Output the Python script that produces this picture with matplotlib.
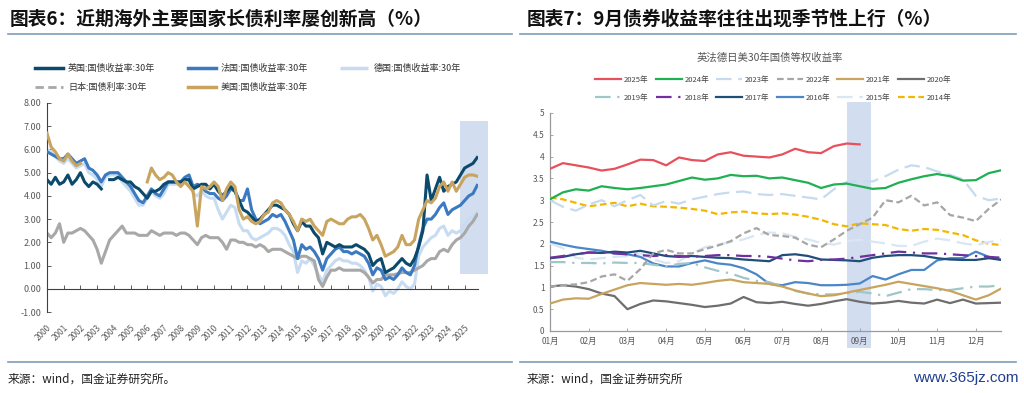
import numpy as np
import matplotlib
matplotlib.use("Agg")
import matplotlib.pyplot as plt
from matplotlib.lines import Line2D
from matplotlib.patches import Rectangle
import matplotlib.transforms as mtransforms

plt.rcParams['font.family'] = ['Noto Sans CJK SC', 'DejaVu Sans']
nan = np.nan

# ---------------- left chart: 30y yields, quarterly readings 2000Q1..2025Q4
t_left = 2000 + np.arange(104) * 0.25
year_ticks = list(range(2000, 2026))

uk = [4.7, 4.5, 4.8, 4.5,  4.6, 4.9, 4.5, 4.7,  5.0, 4.6, 4.4, 4.6,  4.5, 4.3, nan, 4.7,
      4.7, 4.8, 4.7, 4.6,  4.6, 4.4, 4.3, 4.1,  3.9, 4.2, 4.2, 4.3,  4.5, 4.6, 4.6, 4.6,
      4.6, 4.7, 4.7, 4.3,  4.4, 4.5, 4.5, 4.3,  4.5, 4.2, 4.0, 4.2,  4.4, 4.2, 3.8, 3.4,
      3.3, 3.1, 2.9, 3.0,  3.2, 3.4, 3.6, 3.6,  3.5, 3.4, 3.2, 2.8,  2.5, 2.9, 2.7, 2.7,
      2.4, 2.2, 1.5, 2.0,  1.9, 1.8, 1.9, 1.8,  1.8, 1.8, 1.9, 1.8,  1.7, 1.5, 1.0, 1.2,
      1.3, 0.7, 0.8, 0.9,  1.1, 1.3, 1.1, 1.0,  1.3, 1.8, 2.5, 4.9,  3.8, 4.3, 4.8, 4.2,
      4.4, 4.5, 4.6, 4.9,  5.2, 5.3, 5.4, 5.65]
france = [5.9, 5.8, 5.7, 5.6,  5.6, 5.8, 5.6, 5.4,  5.5, 5.6, 5.2, 5.1,  4.9, 4.6, 4.9, 5.0,
          5.0, 5.0, 4.8, 4.6,  4.4, 4.1, 3.8, 3.7,  4.0, 4.3, 4.1, 4.0,  4.3, 4.6, 4.6, 4.6,
          4.6, 4.8, 4.9, 4.4,  4.5, 4.4, 4.2, 4.1,  4.1, 3.9, 3.8, 4.0,  4.3, 4.2, 3.8, 3.8,
          4.3, 3.4, 3.0, 2.8,  2.9, 3.0, 3.2, 3.1,  3.2, 2.9, 2.5, 2.1,  1.3, 1.9, 1.7, 1.8,
          1.6, 1.3, 0.8, 1.3,  1.5, 1.7, 1.8, 1.6,  1.6, 1.5, 1.6, 1.5,  1.4, 1.1, 0.6, 0.9,
          0.8, 0.4, 0.5, 0.4,  0.6, 0.9, 0.7, 0.6,  1.0, 1.9, 2.6, 3.0,  3.0, 3.2, 3.5, 3.7,
          3.2, 3.4, 3.5, 3.6,  3.8, 4.0, 4.1, 4.45]
germany = [6.0, 5.9, 5.7, 5.5,  5.4, 5.6, 5.4, 5.2,  5.3, 5.4, 5.0, 4.9,  4.7, 4.4, 4.8, 4.9,
           4.9, 4.9, 4.6, 4.4,  4.2, 3.9, 3.6, 3.6,  3.9, 4.2, 4.0, 3.9,  4.1, 4.5, 4.5, 4.5,
           4.5, 4.7, 4.6, 4.1,  4.0, 4.2, 4.0, 3.9,  3.9, 3.4, 3.0, 3.3,  3.6, 3.5, 2.8, 2.5,
           2.5, 2.2, 2.1, 2.2,  2.3, 2.4, 2.6, 2.6,  2.5, 2.3, 1.9, 1.6,  0.7, 1.2, 1.1, 1.3,
           1.0, 0.6, 0.3, 0.8,  1.0, 1.2, 1.3, 1.2,  1.2, 1.1, 1.1, 1.0,  0.8, 0.5, -0.1, 0.2,
           0.1, -0.3, -0.1, -0.2,  0.0, 0.3, 0.1, 0.0,  0.2, 1.4, 1.8, 2.0,  2.2, 2.3, 2.6, 2.7,
           2.3, 2.5, 2.4, 2.5,  2.8, 3.0, 3.1, 3.3]
japan = [2.4, 2.2, 2.4, 2.8,  2.0, 2.4, 2.4, 2.5,  2.6, 2.5, 2.3, 2.1,  1.7, 1.1, 1.6, 2.1,
         2.3, 2.5, 2.7, 2.4,  2.4, 2.4, 2.3, 2.3,  2.3, 2.5, 2.4, 2.3,  2.4, 2.4, 2.4, 2.3,
         2.4, 2.4, 2.3, 2.1,  1.9, 2.2, 2.3, 2.2,  2.2, 2.2, 2.0, 1.7,  2.1, 2.1, 2.0, 2.0,
         1.9, 1.9, 1.8, 1.9,  1.8, 1.6, 1.7, 1.7,  1.7, 1.6, 1.5, 1.4,  1.3, 1.4, 1.4, 1.3,
         1.2, 0.4, 0.1, 0.5,  0.8, 0.8, 0.9, 0.8,  0.8, 0.8, 0.8, 0.8,  0.7, 0.5, 0.25, 0.4,
         0.4, 0.6, 0.6, 0.6,  0.65, 0.7, 0.7, 0.7,  0.8, 0.9, 1.0, 1.2,  1.3, 1.3, 1.6, 1.7,
         1.6, 1.9, 2.1, 2.2,  2.4, 2.7, 2.9, 3.2]
usa = [6.7, 6.1, 5.9, 5.6,  5.5, 5.8, 5.5, 5.3,  5.4, nan, nan, nan,  nan, nan, nan, nan,
       nan, nan, nan, nan,  nan, nan, nan, nan,  4.6, 5.2, 4.9, 4.7,  4.8, 5.0, 4.9, 4.6,
       4.4, 4.6, 4.4, 4.2,  2.7, 4.4, 4.3, 4.4,  4.6, 4.4, 3.8, 4.3,  4.6, 4.4, 3.4, 3.0,
       3.1, 2.9, 2.8, 2.9,  3.2, 3.3, 3.7, 3.8,  3.7, 3.4, 3.2, 2.9,  2.5, 3.0, 2.9, 3.0,
       2.7, 2.5, 2.3, 2.9,  3.0, 2.9, 2.8, 2.8,  3.0, 3.1, 3.1, 3.2,  3.0, 2.6, 2.1, 2.3,
       1.9, 1.4, 1.5, 1.6,  1.8, 2.3, 1.9, 1.9,  2.1, 3.0, 3.4, 3.8,  3.7, 3.9, 4.4, 4.6,
       4.2, 4.6, 4.2, 4.5,  4.8, 4.9, 4.9, 4.85]

# ---------------- right chart: equal-weight 30y yield, readings every third of a month
m_right = np.arange(36) / 3.0
month_labels = ['%02d月' % m for m in range(1, 13)]

y2025 = [3.72, 3.85, 3.80, 3.75, 3.68, 3.72, 3.82, 3.93, 3.92, 3.80, 3.98, 3.92,
         3.90, 4.05, 4.10, 4.02, 4.00, 3.98, 4.05, 4.18, 4.10, 4.08, 4.24, 4.30,
         4.28] + [nan] * 11
y2024 = [3.02, 3.18, 3.25, 3.22, 3.32, 3.28, 3.25, 3.28, 3.32, 3.36, 3.44, 3.52,
         3.47, 3.50, 3.58, 3.55, 3.56, 3.50, 3.52, 3.46, 3.40, 3.28, 3.36, 3.38,
         3.32, 3.26, 3.28, 3.40, 3.48, 3.55, 3.60, 3.55, 3.45, 3.46, 3.62, 3.69]
y2023 = [3.00, 2.85, 2.76, 2.90, 3.00, 2.86, 3.00, 3.12, 2.88, 2.98, 2.92, 3.02,
         3.08, 3.14, 3.18, 3.20, 3.14, 3.12, 3.14, 3.10, 3.06, 3.02, 3.25, 3.42,
         3.44, 3.43, 3.55, 3.70, 3.80, 3.76, 3.66, 3.58, 3.48, 3.10, 3.00, 3.04]
y2022 = [1.02, 1.05, 1.07, 1.12, 1.25, 1.30, 1.15, 1.42, 1.78, 1.86, 1.78, 1.78,
         1.88, 1.96, 2.06, 2.24, 2.36, 2.20, 2.18, 2.14, 1.98, 1.92, 2.10, 2.30,
         2.45, 2.60, 3.00, 2.95, 3.10, 2.88, 2.95, 2.66, 2.60, 2.52, 2.80, 3.02]
y2021 = [0.63, 0.72, 0.75, 0.74, 0.85, 0.95, 1.05, 1.10, 1.08, 1.06, 1.08, 1.06,
         1.10, 1.15, 1.18, 1.12, 1.10, 1.08, 1.02, 0.93, 0.86, 0.80, 0.82, 0.88,
         0.94, 1.00, 1.06, 1.13, 1.08, 1.03, 0.98, 0.92, 0.82, 0.72, 0.82, 0.98]
y2020 = [1.02, 1.05, 1.02, 0.96, 0.86, 0.80, 0.50, 0.62, 0.70, 0.68, 0.64, 0.60,
         0.55, 0.58, 0.63, 0.78, 0.66, 0.64, 0.67, 0.62, 0.58, 0.62, 0.68, 0.73,
         0.67, 0.63, 0.65, 0.69, 0.65, 0.63, 0.72, 0.64, 0.72, 0.63, 0.64, 0.65]
y2019 = [1.58, 1.58, 1.56, 1.56, 1.55, 1.57, 1.56, 1.56, 1.52, 1.48, 1.54, 1.56,
         1.46, 1.38, 1.32, 1.22, 1.15, 1.12, 1.02, 0.92, 0.86, 0.84, 0.84, 0.86,
         0.90, 0.86, 0.80, 0.88, 0.96, 0.96, 0.94, 0.94, 0.98, 1.02, 1.02, 1.05]
y2018 = [1.68, 1.72, 1.76, 1.80, 1.80, 1.78, 1.76, 1.74, 1.72, 1.74, 1.72, 1.70,
         1.72, 1.74, 1.74, 1.72, 1.72, 1.70, 1.66, 1.62, 1.60, 1.63, 1.64, 1.66,
         1.70, 1.74, 1.78, 1.82, 1.80, 1.78, 1.78, 1.76, 1.74, 1.72, 1.70, 1.68]
y2017 = [1.67, 1.70, 1.76, 1.80, 1.79, 1.82, 1.80, 1.84, 1.78, 1.72, 1.70, 1.72,
         1.70, 1.68, 1.67, 1.64, 1.62, 1.60, 1.74, 1.76, 1.72, 1.64, 1.63, 1.62,
         1.60, 1.68, 1.72, 1.74, 1.74, 1.72, 1.67, 1.64, 1.63, 1.63, 1.67, 1.63]
y2016 = [2.05, 1.98, 1.92, 1.88, 1.84, 1.78, 1.76, 1.70, 1.55, 1.48, 1.48, 1.56,
         1.62, 1.55, 1.52, 1.44, 1.30, 1.08, 1.05, 1.12, 1.10, 1.05, 1.05, 1.06,
         1.09, 1.26, 1.18, 1.30, 1.40, 1.40, 1.62, 1.67, 1.67, 1.82, 1.70, 1.63]
y2015 = [2.01, 1.90, 1.68, 1.64, 1.67, 1.70, 1.72, 1.78, 1.64, 1.56, 1.60, 1.78,
         1.92, 1.98, 2.04, 2.10, 2.20, 2.26, 2.24, 2.16, 2.10, 2.02, 1.98, 2.06,
         2.09, 2.05, 2.01, 1.95, 1.95, 2.05, 2.12, 2.08, 2.01, 1.97, 2.04, 2.09]
y2014 = [3.06, 3.02, 2.94, 2.86, 2.90, 2.94, 2.86, 2.92, 2.86, 2.85, 2.83, 2.80,
         2.76, 2.68, 2.72, 2.74, 2.70, 2.68, 2.70, 2.67, 2.62, 2.55, 2.45, 2.40,
         2.47, 2.45, 2.43, 2.34, 2.30, 2.34, 2.32, 2.26, 2.20, 2.08, 2.00, 1.97]

W, H = 1024, 393
fig = plt.figure(figsize=(W / 100, H / 100), dpi=100)


def fx(px):
    return px / W


def fy(py):
    return 1 - py / H


tick_grey = '#595959'

# ---------------- headers / footers
fig.text(fx(10), fy(19), '图表6：近期海外主要国家长债利率屡创新高（%）', fontsize=13.5,
         fontweight='bold', va='center', ha='left', color='#111111')
fig.text(fx(527), fy(19), '图表7：9月债券收益率往往出现季节性上行（%）', fontsize=13.5,
         fontweight='bold', va='center', ha='left', color='#111111')
for x0, x1 in [(8, 512), (520, 1016)]:
    fig.add_artist(Line2D([fx(x0), fx(x1)], [fy(34), fy(34)], color='#7f9bb8', lw=1.2))
    fig.add_artist(Line2D([fx(x0), fx(x1)], [fy(362), fy(362)], color='#7f9bb8', lw=1.2))
fig.text(fx(8), fy(379), '来源：wind，国金证券研究所。', fontsize=8.5, va='center', color='#222222')
fig.text(fx(527), fy(379), '来源：wind，国金证券研究所', fontsize=8.5, va='center', color='#222222')
fig.text(fx(1019), fy(378), 'www.365jz.com', fontsize=11, va='center', ha='right',
         color='#1f3f8f', family='Liberation Sans')

# ---------------- left chart
ax1 = fig.add_axes([fx(47), fy(312), fx(478) - fx(47), fy(103) - fy(312)])
c_uk, c_fr, c_de, c_jp, c_us = '#0c4a6c', '#3b79c0', '#c8dcf1', '#a8a8a8', '#c8a45e'
ax1.add_patch(Rectangle((2024.73, 0.65), 1.67, 6.59, color='#d3ddf0', lw=0,
                        zorder=0, clip_on=False))
lw_l = 2.2
ax1.plot(t_left, germany, color=c_de, lw=lw_l, zorder=2)
ax1.plot(t_left, japan, color=c_jp, lw=lw_l, zorder=2)
ax1.plot(t_left, france, color=c_fr, lw=lw_l, zorder=3)
ax1.plot(t_left, uk, color=c_uk, lw=lw_l, zorder=4)
ax1.plot(t_left, usa, color=c_us, lw=lw_l, zorder=5)

ax1.set_xlim(2000, 2025.8)
ax1.set_ylim(-1, 8)
ax1.set_yticks(np.arange(-1, 9))
ax1.set_yticklabels(['%.2f' % v for v in np.arange(-1, 9)])
ax1.set_xticks(year_ticks)
ax1.set_xticklabels([str(y) for y in year_ticks])
for s in ['top', 'right']:
    ax1.spines[s].set_visible(False)
ax1.spines['bottom'].set_position(('data', 0))
for s in ['left', 'bottom']:
    ax1.spines[s].set_color('#404040')
    ax1.spines[s].set_linewidth(0.8)
ax1.tick_params(axis='x', direction='in', length=3, width=0.6, pad=25,
                labelsize=6, labelcolor=tick_grey, color='#404040', labelrotation=45)
ax1.tick_params(axis='y', direction='in', length=3, width=0.6, pad=4,
                labelsize=6.5, labelcolor=tick_grey, color='#404040')
for lab in ax1.get_xticklabels():
    lab.set_ha('right')
    lab.set_rotation_mode('anchor')
ax1.patch.set_alpha(0)

h_left = [Line2D([], [], color=c_uk, lw=2.5),
          Line2D([], [], color=c_jp, lw=2.0, dashes=(3, 1.6)),
          Line2D([], [], color=c_fr, lw=2.5),
          Line2D([], [], color=c_us, lw=2.5),
          Line2D([], [], color=c_de, lw=2.5, dashes=(9, 2.5))]
l_left = ['英国:国债收益率:30年', '日本:国债利率:30年', '法国:国债收益率:30年',
          '美国:国债收益率:30年', '德国:国债收益率:30年']
fig.legend(h_left, l_left, ncol=3, loc='upper left', bbox_to_anchor=(fx(35), fy(64)),
           frameon=False, fontsize=6.5, handlelength=3.1, handletextpad=0.55,
           columnspacing=3.6, labelspacing=1.1, borderpad=0, borderaxespad=0,
           labelcolor='#333333')

# ---------------- right chart
ax2 = fig.add_axes([fx(550), fy(331), fx(1001) - fx(550), fy(113) - fy(331)])
trans = mtransforms.blended_transform_factory(ax2.transData, ax2.transAxes)
ax2.add_patch(Rectangle((7.68, -0.078), 0.62, 1.128, transform=trans, color='#d3ddf0',
                        lw=0, zorder=0, clip_on=False))

series = [
    ('2025年', y2025, '#e8505b', '-'),
    ('2024年', y2024, '#1fb052', '-'),
    ('2023年', y2023, '#c6daf0', (0, (7, 3))),
    ('2022年', y2022, '#a6a6a6', (0, (3, 1.6))),
    ('2021年', y2021, '#c8a45e', '-'),
    ('2020年', y2020, '#6e6e6e', '-'),
    ('2019年', y2019, '#9fc6c9', (0, (7, 3, 1, 3))),
    ('2018年', y2018, '#7030a0', (0, (7, 3, 1, 3))),
    ('2017年', y2017, '#1f4e79', '-'),
    ('2016年', y2016, '#4a86c8', '-'),
    ('2015年', y2015, '#d9e6f3', (0, (7, 3))),
    ('2014年', y2014, '#f2b700', (0, (3, 1.6))),
]
handles = {}
for name, vals, col, ls in reversed(series):
    ln, = ax2.plot(m_right, vals, color=col, lw=1.6, linestyle=ls, zorder=3)
    handles[name] = ln

ax2.set_xlim(0, 11.65)
ax2.set_ylim(0, 5)
ax2.set_yticks(np.arange(0, 5.01, 0.5))
ax2.set_yticklabels(['0', '0.5', '1', '1.5', '2', '2.5', '3', '3.5', '4', '4.5', '5'])
ax2.set_xticks(range(12))
ax2.set_xticklabels(month_labels)
for s in ['top', 'right']:
    ax2.spines[s].set_visible(False)
for s in ['left', 'bottom']:
    ax2.spines[s].set_color('#9a9a9a')
    ax2.spines[s].set_linewidth(0.9)
ax2.tick_params(direction='in', length=2.5, width=0.6, color='#9a9a9a',
                labelsize=6, labelcolor=tick_grey, pad=4)
ax2.patch.set_alpha(0)

fig.text(fx(770), fy(58), '英法德日美30年国债等权收益率', fontsize=7.5, ha='center',
         va='center', color='#555555')
order = ['2025年', '2019年', '2024年', '2018年', '2023年', '2017年',
         '2022年', '2016年', '2021年', '2015年', '2020年', '2014年']
fig.legend([handles[k] for k in order], order, ncol=6, loc='upper left',
           bbox_to_anchor=(fx(595), fy(76)), frameon=False, fontsize=5.5,
           handlelength=3.4, handletextpad=0.4, columnspacing=0.9, labelspacing=1.3,
           borderpad=0, borderaxespad=0, labelcolor='#444444')

fig.savefig('out.png', dpi=100)
